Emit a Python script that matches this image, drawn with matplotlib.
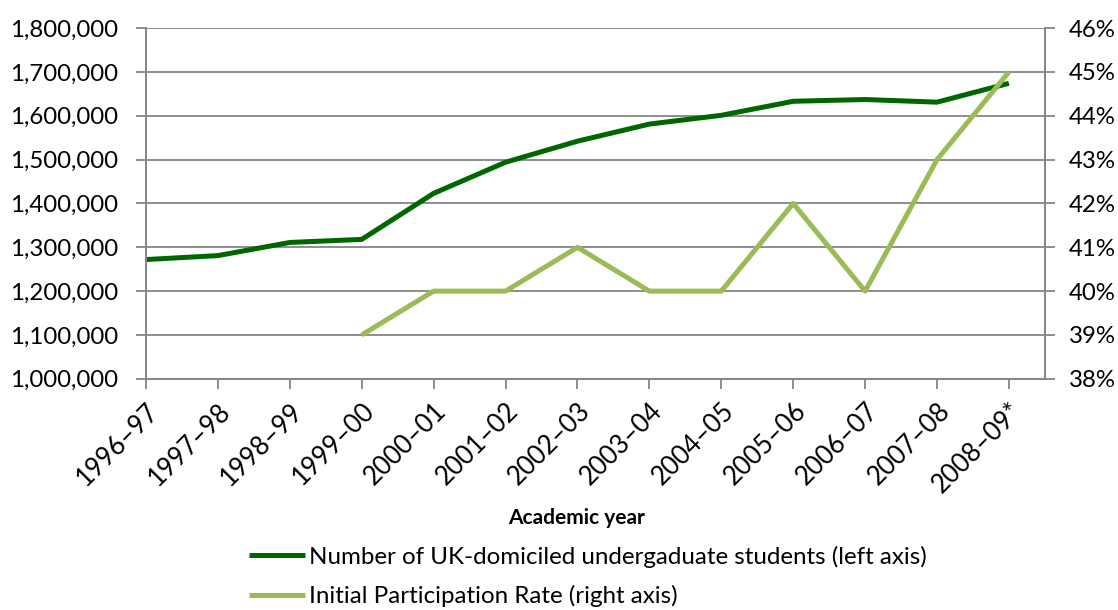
import numpy as np
import matplotlib.pyplot as plt
from matplotlib.ticker import FuncFormatter

plt.rcParams['font.family'] = ['Lato', 'DejaVu Sans']

# Academic years on the x axis
years = ['1996–97', '1997–98', '1998–99', '1999–00', '2000–01', '2001–02', '2002–03',
         '2003–04', '2004–05', '2005–06', '2006–07', '2007–08', '2008–09*']

# UK-domiciled undergraduates (left axis)
students = [1272000, 1281000, 1311000, 1318000, 1423000, 1494000, 1542000,
            1581000, 1601000, 1633000, 1637000, 1631000, 1674000]

# Initial participation rate, % (right axis); no data before 1999-00
ipr = [None, None, None, 39, 40, 40, 41, 40, 40, 42, 40, 43, 45]

dark = '#006600'
light = '#9BBB59'
grey = '#868686'

fig = plt.figure(figsize=(11.18, 6.10), dpi=100)
ax = fig.add_axes([0.1306, 0.379, 0.804, 0.575])
ax2 = ax.twinx()

x = np.arange(len(years))
ipr_arr = np.array([np.nan if v is None else v for v in ipr], dtype=float)

l1, = ax.plot(x, students, color=dark, lw=3.6, solid_capstyle='butt',
              label='Number of UK-domiciled undergaduate students (left axis)')
l2, = ax2.plot(x, ipr_arr, color=light, lw=3.6, solid_capstyle='butt',
               label='Initial Participation Rate (right axis)')

ax.set_xlim(0, 12.5)
ax.set_ylim(1000000, 1800000)
ax.set_yticks(np.arange(1000000, 1800001, 100000))
ax.yaxis.set_major_formatter(FuncFormatter(lambda v, p: f'{int(v):,}'))
ax2.set_ylim(38, 46)
ax2.set_yticks(np.arange(38, 47, 1))
ax2.yaxis.set_major_formatter(FuncFormatter(lambda v, p: f'{int(v)}%'))

ax.grid(True, axis='y', color=grey, lw=1.3)
ax.set_axisbelow(True)

ax.set_xticks(x)
ax.set_xticklabels(years, rotation=45, ha='right', rotation_mode='anchor', fontsize=18.5)
ax.tick_params(axis='y', labelsize=17.3, color=grey, length=7, width=1.3, pad=13)
ax.tick_params(axis='x', color=grey, length=7, width=1.3, pad=7)
ax2.tick_params(axis='y', labelsize=17.3, color=grey, length=7, width=1.3, pad=10)

for a in (ax, ax2):
    a.spines['top'].set_visible(False)
    for s in ('left', 'right', 'bottom'):
        a.spines[s].set_color(grey)
        a.spines[s].set_linewidth(1.3)

fig.text(0.516, 0.151, 'Academic year', ha='center', va='center',
         fontsize=15, fontweight='bold')

# second entry runs off the bottom edge, as in the source chart
fig.legend(handles=[l1, l2], loc='upper left', bbox_to_anchor=(0.214, 0.121),
           frameon=False, fontsize=17.4, handlelength=2.3, handletextpad=0.2,
           labelspacing=0.7, borderaxespad=0)

fig.savefig('out.png', dpi=100)
